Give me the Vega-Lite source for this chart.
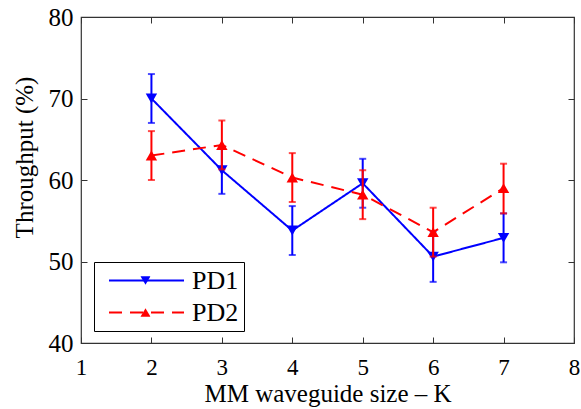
{
  "$schema": "https://vega.github.io/schema/vega-lite/v6.json",
  "width": 493,
  "height": 326,
  "autosize": {"type": "none"},
  "padding": {"left": 81, "top": 17, "right": 7, "bottom": 66},
  "background": "white",
  "config": {
    "view": {"stroke": "#333333", "strokeWidth": 1.2},
    "font": "Liberation Serif, Times New Roman, serif"
  },
  "data": {
    "values": [
      {"k": 2, "series": "PD1", "y": 70.0, "lo": 67.0, "hi": 73.0},
      {"k": 3, "series": "PD1", "y": 61.2, "lo": 58.3, "hi": 64.1},
      {"k": 4, "series": "PD1", "y": 53.8, "lo": 50.8, "hi": 56.8},
      {"k": 5, "series": "PD1", "y": 59.6, "lo": 56.6, "hi": 62.6},
      {"k": 6, "series": "PD1", "y": 50.6, "lo": 47.5, "hi": 53.7},
      {"k": 7, "series": "PD1", "y": 52.9, "lo": 49.9, "hi": 55.9},
      {"k": 2, "series": "PD2", "y": 63.0, "lo": 60.0, "hi": 66.0},
      {"k": 3, "series": "PD2", "y": 64.3, "lo": 61.3, "hi": 67.3},
      {"k": 4, "series": "PD2", "y": 60.3, "lo": 57.3, "hi": 63.3},
      {"k": 5, "series": "PD2", "y": 58.2, "lo": 55.2, "hi": 61.2},
      {"k": 6, "series": "PD2", "y": 53.6, "lo": 50.6, "hi": 56.6},
      {"k": 7, "series": "PD2", "y": 59.0, "lo": 55.9, "hi": 62.0}
    ]
  },
  "resolve": {"axis": {"x": "independent", "y": "independent"}},
  "layer": [
    {
      "transform": [{"filter": "datum.series === 'PD1'"}],
      "mark": {"type": "rule", "color": "#0000ff", "strokeWidth": 2},
      "encoding": {
        "x": {"field": "k", "type": "quantitative", "scale": {"domain": [1, 8], "nice": false, "zero": false},
          "axis": {"orient": "bottom", "values": [1, 2, 3, 4, 5, 6, 7, 8], "tickSize": -6, "tickColor": "#333333", "tickWidth": 1, "domain": false, "grid": false,
            "labelFont": "Liberation Serif, Times New Roman, serif", "labelFontSize": 23, "labelColor": "#000000", "labelPadding": 37, "labelBaseline": "alphabetic", "labelFlush": false, "labelOverlap": false,
            "title": "MM waveguide size – K", "titleFont": "Liberation Serif, Times New Roman, serif", "titleFontSize": 25, "titleFontWeight": "normal", "titleColor": "#000000",
            "titleX": 246.5, "titleY": 58, "titleBaseline": "alphabetic", "titleAlign": "center"}},
        "y": {"field": "lo", "type": "quantitative", "scale": {"domain": [40, 80], "nice": false, "zero": false},
          "axis": {"orient": "left", "values": [40, 50, 60, 70, 80], "tickSize": -6, "tickColor": "#333333", "tickWidth": 1, "domain": false, "grid": false,
            "labelFont": "Liberation Serif, Times New Roman, serif", "labelFontSize": 25, "labelColor": "#000000", "labelPadding": 14, "labelBaseline": "middle", "labelFlush": false, "labelOverlap": false,
            "title": "Throughput (%)", "titleFont": "Liberation Serif, Times New Roman, serif", "titleFontSize": 25, "titleFontWeight": "normal", "titleColor": "#000000",
            "titleX": -49, "titleY": 140, "titleBaseline": "alphabetic", "titleAlign": "center", "titleAngle": -90}},
        "y2": {"field": "hi"}
      }
    },
    {
      "transform": [{"filter": "datum.series === 'PD1'"}, {"fold": ["lo", "hi"], "as": ["end", "v"]}],
      "mark": {"type": "tick", "orient": "horizontal", "size": 7, "thickness": 2, "color": "#0000ff"},
      "encoding": {
        "x": {"field": "k", "type": "quantitative", "axis": null},
        "y": {"field": "v", "type": "quantitative", "axis": null}
      }
    },
    {
      "transform": [{"filter": "datum.series === 'PD1'"}],
      "mark": {"type": "line", "strokeWidth": 2},
      "encoding": {
        "x": {"field": "k", "type": "quantitative", "axis": null},
        "y": {"field": "y", "type": "quantitative", "axis": null},
        "stroke": {"field": "series", "type": "nominal", "scale": {"range": ["#0000ff", "#ff0000"]},
          "legend": {"orient": "none", "legendX": 13, "legendY": 245, "title": null, "symbolType": "stroke", "symbolSize": 5625, "symbolStrokeWidth": 2,
            "strokeColor": "#000000", "fillColor": "#ffffff", "padding": 5, "symbolOffset": 9, "labelOffset": 7, "labelFont": "Liberation Serif, Times New Roman, serif", "labelFontSize": 26,
            "labelColor": "#000000", "clipHeight": 27, "rowPadding": 5, "labelExpr": "datum.label + '\u2009'"}},
        "strokeDash": {"field": "series", "type": "nominal", "scale": {"range": [[1, 0], [13, 8]]},
          "legend": {"orient": "none", "legendX": 13, "legendY": 245, "title": null, "symbolType": "stroke", "symbolSize": 5625, "symbolStrokeWidth": 2,
            "strokeColor": "#000000", "fillColor": "#ffffff", "padding": 5, "symbolOffset": 9, "labelOffset": 7, "labelFont": "Liberation Serif, Times New Roman, serif", "labelFontSize": 26,
            "labelColor": "#000000", "clipHeight": 27, "rowPadding": 5, "labelExpr": "datum.label + '\u2009'"}}
      }
    },
    {
      "transform": [{"filter": "datum.series === 'PD1'"}],
      "mark": {"type": "point", "filled": true, "size": 130, "opacity": 1},
      "encoding": {
        "x": {"field": "k", "type": "quantitative",
          "axis": {"orient": "top", "values": [1, 2, 3, 4, 5, 6, 7, 8], "tickSize": -6, "tickColor": "#333333", "tickWidth": 1, "domain": false, "grid": false, "labels": false, "title": null}},
        "y": {"field": "y", "type": "quantitative",
          "axis": {"orient": "right", "values": [40, 50, 60, 70, 80], "tickSize": -6, "tickColor": "#333333", "tickWidth": 1, "domain": false, "grid": false, "labels": false, "title": null}},
        "fill": {"field": "series", "type": "nominal", "scale": {"domain": ["PD1", "PD2"], "range": ["#0000ff", "#ff0000"]},
          "legend": {"orient": "none", "legendX": 13, "legendY": 245, "title": null, "symbolSize": 100, "symbolStrokeWidth": 0, "padding": 5, "symbolOffset": 41.5,
            "labelOffset": 0, "labelFontSize": 1, "labelExpr": "''", "clipHeight": 27, "rowPadding": 5}},
        "shape": {"field": "series", "type": "nominal", "scale": {"domain": ["PD1", "PD2"], "range": ["triangle-down", "triangle-up"]},
          "legend": {"orient": "none", "legendX": 13, "legendY": 245, "title": null, "symbolSize": 100, "symbolStrokeWidth": 0, "padding": 5, "symbolOffset": 41.5,
            "labelOffset": 0, "labelFontSize": 1, "labelExpr": "''", "clipHeight": 27, "rowPadding": 5}}
      }
    },
    {
      "transform": [{"filter": "datum.series === 'PD2'"}],
      "mark": {"type": "rule", "color": "#ff0000", "strokeWidth": 2},
      "encoding": {
        "x": {"field": "k", "type": "quantitative", "axis": null},
        "y": {"field": "lo", "type": "quantitative", "axis": null},
        "y2": {"field": "hi"}
      }
    },
    {
      "transform": [{"filter": "datum.series === 'PD2'"}, {"fold": ["lo", "hi"], "as": ["end", "v"]}],
      "mark": {"type": "tick", "orient": "horizontal", "size": 7, "thickness": 2, "color": "#ff0000"},
      "encoding": {
        "x": {"field": "k", "type": "quantitative", "axis": null},
        "y": {"field": "v", "type": "quantitative", "axis": null}
      }
    },
    {
      "transform": [{"filter": "datum.series === 'PD2'"}],
      "mark": {"type": "line", "strokeWidth": 2},
      "encoding": {
        "x": {"field": "k", "type": "quantitative", "axis": null},
        "y": {"field": "y", "type": "quantitative", "axis": null},
        "stroke": {"field": "series", "type": "nominal"},
        "strokeDash": {"field": "series", "type": "nominal"}
      }
    },
    {
      "transform": [{"filter": "datum.series === 'PD2'"}],
      "mark": {"type": "point", "filled": true, "size": 130, "opacity": 1},
      "encoding": {
        "x": {"field": "k", "type": "quantitative", "axis": null},
        "y": {"field": "y", "type": "quantitative", "axis": null},
        "fill": {"field": "series", "type": "nominal"},
        "shape": {"field": "series", "type": "nominal"}
      }
    }
  ]
}
